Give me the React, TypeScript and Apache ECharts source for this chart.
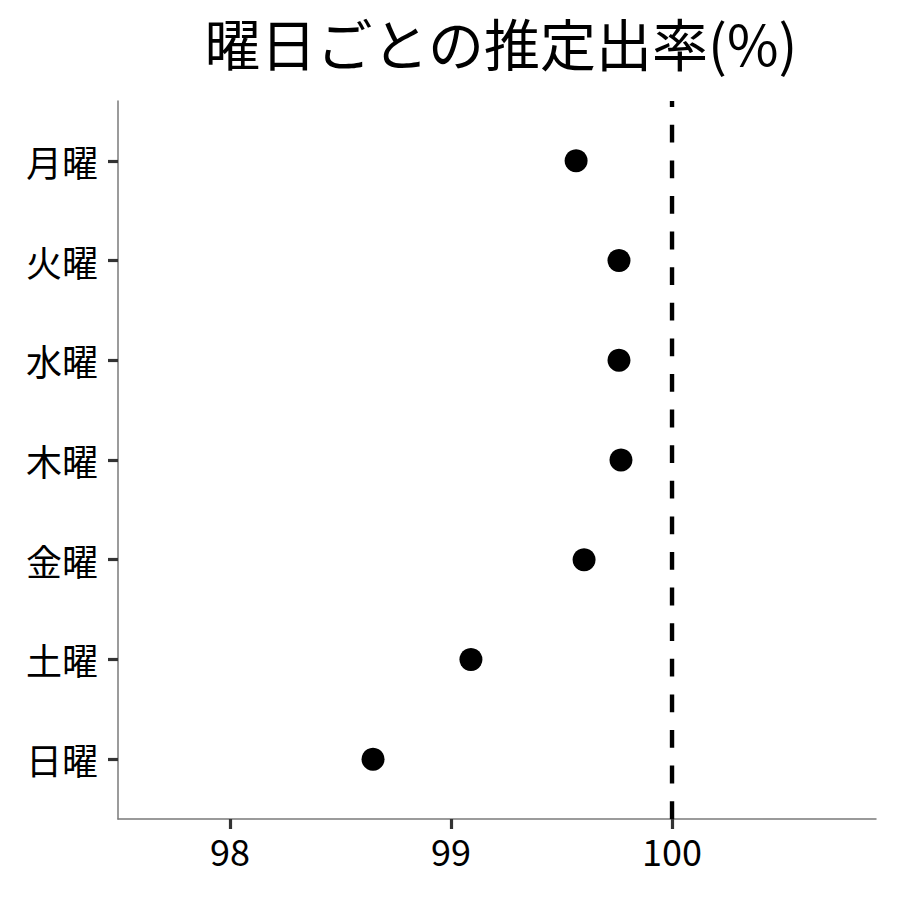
import React, { useEffect, useRef } from "react";
import * as echarts from "echarts";

const days: string[] = ["月曜", "火曜", "水曜", "木曜", "金曜", "土曜", "日曜"];
const rates: number[] = [99.566, 99.76, 99.76, 99.769, 99.602, 99.09, 98.647];
const xTicks: number[] = [98, 99, 100];
const refValue = 100;
const titleText = "曜日ごとの推定出率(%)";

const FONT = "'Noto Sans CJK JP', 'Noto Sans', sans-serif";

export default function App() {
  const ref = useRef<HTMLDivElement>(null);
  useEffect(() => {
    if (!ref.current) return;
    const chart = echarts.init(ref.current, undefined, { renderer: "svg" });
    const yIdx = days.map((_, i) => i);
    chart.setOption({
      animation: false,
      backgroundColor: "#ffffff",
      title: {
        text: titleText,
        left: 496,
        top: 8,
        textAlign: "center",
        textStyle: { fontFamily: FONT, fontSize: 56, fontWeight: "normal", color: "#000" },
      },
      grid: { left: 118, right: 24, top: 101, bottom: 81, containLabel: false },
      xAxis: {
        type: "value",
        min: 97.493,
        max: 100.923,
        splitLine: { show: false },
        axisLine: { show: true, onZero: false, lineStyle: { color: "#7a7a7a", width: 1.5 } },
        axisTick: { show: true, customValues: xTicks, length: 10, lineStyle: { color: "#333", width: 3.2 } },
        axisLabel: {
          customValues: xTicks,
          margin: 13,
          fontFamily: FONT,
          fontSize: 36,
          color: "#000",
        },
      },
      yAxis: {
        type: "value",
        min: -0.6,
        max: 6.6,
        inverse: true,
        splitLine: { show: false },
        axisLine: { show: true, onZero: false, lineStyle: { color: "#7a7a7a", width: 1.5 } },
        axisTick: { show: true, customValues: yIdx, length: 10, lineStyle: { color: "#333", width: 3.2 } },
        axisLabel: {
          customValues: yIdx,
          margin: 20,
          fontFamily: FONT,
          fontSize: 36,
          color: "#000",
          formatter: (v: number) => days[Math.round(v)] ?? "",
        },
      },
      series: [
        {
          type: "line",
          data: [
            [refValue, 6.6],
            [refValue, -0.6],
          ],
          symbol: "none",
          silent: true,
          lineStyle: { color: "#000", width: 4.4, type: [17.8, 17.8] },
          z: 1,
        },
        {
          type: "scatter",
          data: rates.map((r, i) => [r, i]),
          symbol: "circle",
          symbolSize: 23,
          itemStyle: { color: "#000", opacity: 1 },
          z: 2,
        },
      ],
    });
    return () => chart.dispose();
  }, []);
  return (
    <div
      ref={ref}
      style={{ position: "fixed", left: 0, top: 0, width: 900, height: 900, background: "#fff" }}
    />
  );
}
